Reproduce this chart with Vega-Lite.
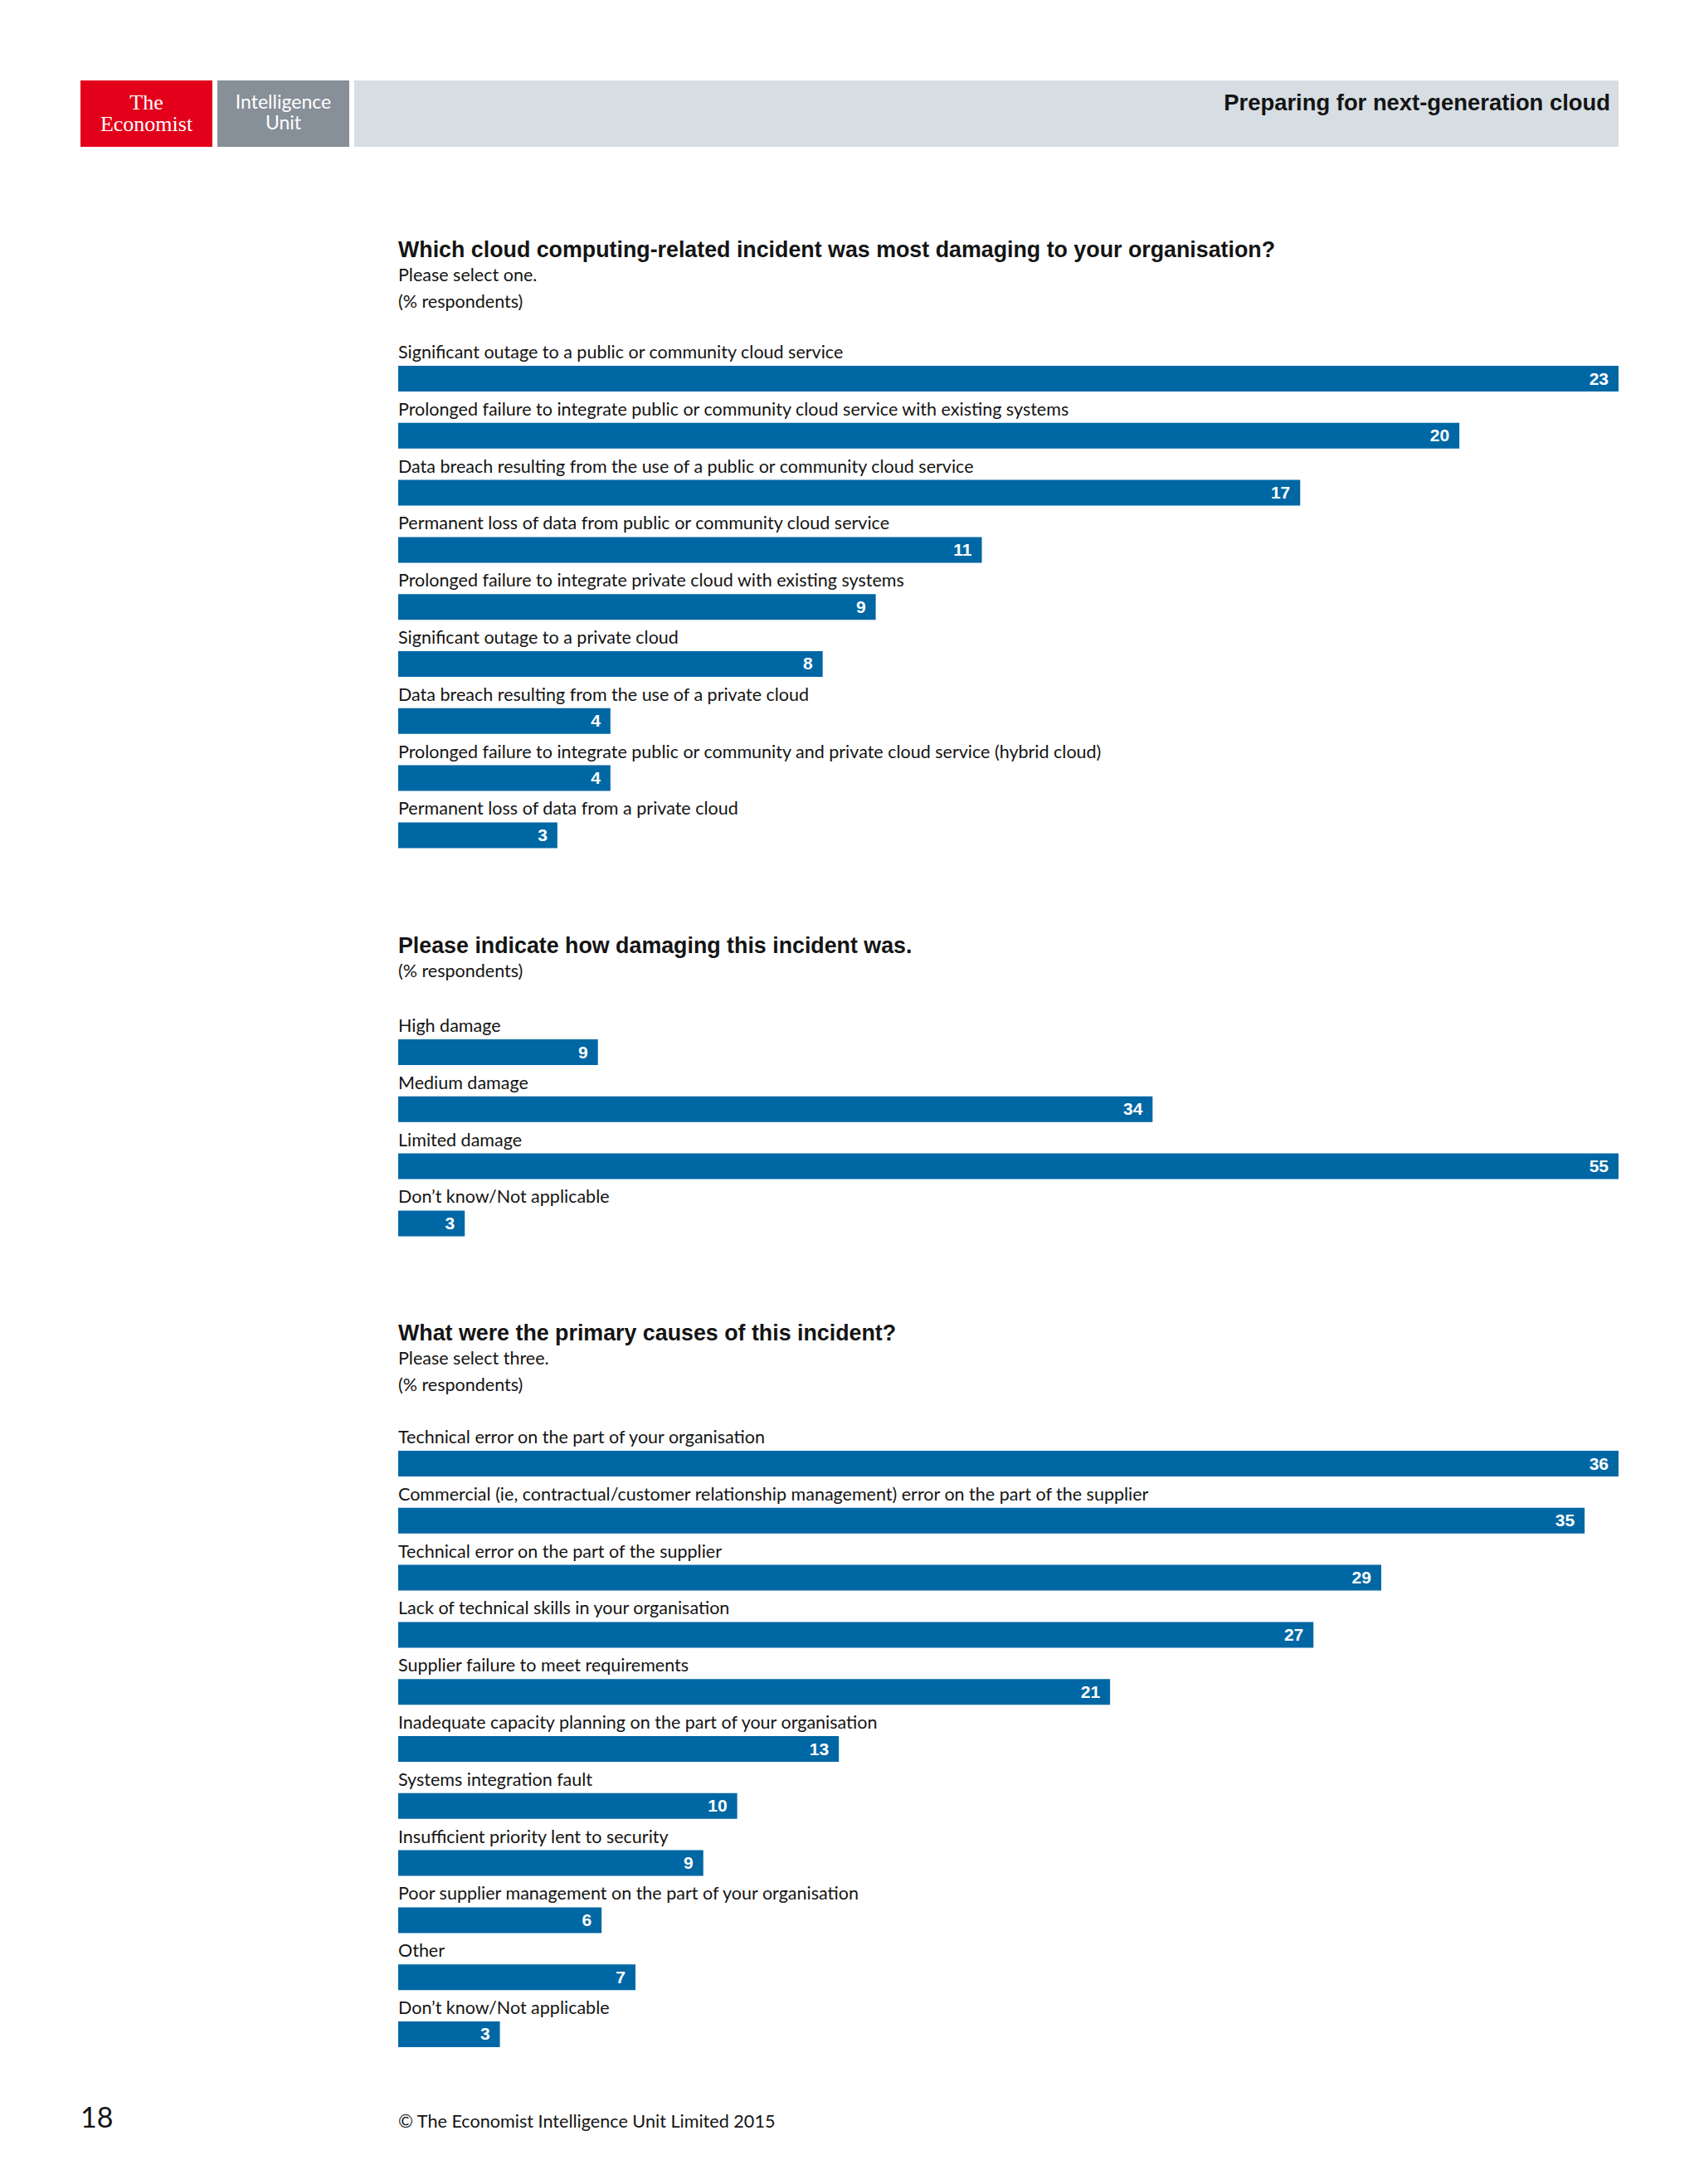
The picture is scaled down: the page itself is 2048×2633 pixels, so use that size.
{
  "$schema": "https://vega.github.io/schema/vega-lite/v6.json",
  "background": "white",
  "padding": {"left": 97, "top": 97, "right": 97, "bottom": 123},
  "bounds": "flush",
  "spacing": 0,
  "config": {"view": {"stroke": null}, "text": {"color": "#141414"}},
  "datasets": {
    "q1": [
      {"answer": "Significant outage to a public or community cloud service", "pct": 23},
      {"answer": "Prolonged failure to integrate public or community cloud service with existing systems", "pct": 20},
      {"answer": "Data breach resulting from the use of a public or community cloud service", "pct": 17},
      {"answer": "Permanent loss of data from public or community cloud service", "pct": 11},
      {"answer": "Prolonged failure to integrate private cloud with existing systems", "pct": 9},
      {"answer": "Significant outage to a private cloud", "pct": 8},
      {"answer": "Data breach resulting from the use of a private cloud", "pct": 4},
      {"answer": "Prolonged failure to integrate public or community and private cloud service (hybrid cloud)", "pct": 4},
      {"answer": "Permanent loss of data from a private cloud", "pct": 3}
    ],
    "q2": [
      {"answer": "High damage", "pct": 9},
      {"answer": "Medium damage", "pct": 34},
      {"answer": "Limited damage", "pct": 55},
      {"answer": "Don’t know/Not applicable", "pct": 3}
    ],
    "q3": [
      {"answer": "Technical error on the part of your organisation", "pct": 36},
      {"answer": "Commercial (ie, contractual/customer relationship management) error on the part of the supplier", "pct": 35},
      {"answer": "Technical error on the part of the supplier", "pct": 29},
      {"answer": "Lack of technical skills in your organisation", "pct": 27},
      {"answer": "Supplier failure to meet requirements", "pct": 21},
      {"answer": "Inadequate capacity planning on the part of your organisation", "pct": 13},
      {"answer": "Systems integration fault", "pct": 10},
      {"answer": "Insufficient priority lent to security", "pct": 9},
      {"answer": "Poor supplier management on the part of your organisation", "pct": 6},
      {"answer": "Other", "pct": 7},
      {"answer": "Don’t know/Not applicable", "pct": 3}
    ],
    "brand1": [{"name": "The Economist"}],
    "brand2": [{"name": "Intelligence Unit"}],
    "none": [{"name": ""}]
  },
  "vconcat": [
    {
      "hconcat": [
        {
          "width": 159, "height": 80,
          "view": {"fill": "#e2001a", "stroke": null},
          "data": {"name": "brand1"},
          "mark": {"type": "text", "lineBreak": " ", "font": "Liberation Serif", "fontSize": 26, "lineHeight": 26, "color": "white", "align": "center", "baseline": "middle", "dy": -13},
          "encoding": {"text": {"field": "name"}}
        },
        {
          "width": 159, "height": 80,
          "view": {"fill": "#878f98", "stroke": null},
          "data": {"name": "brand2"},
          "mark": {"type": "text", "lineBreak": " ", "font": "Lato", "fontSize": 23, "lineHeight": 25, "color": "white", "align": "center", "baseline": "middle", "dy": -13},
          "encoding": {"text": {"field": "name"}}
        },
        {
          "width": 1524, "height": 80,
          "view": {"fill": "#d6dee3", "stroke": null},
          "data": {"name": "none"},
          "title": {"text": "Preparing for next-generation cloud", "anchor": "end", "frame": "group", "orient": "top", "offset": -41, "dx": -10, "font": "Liberation Sans", "fontSize": 27.4, "fontWeight": "bold", "color": "#141414"},
          "mark": {"type": "text"},
          "encoding": {"text": {"field": "name"}}
        }
      ],
      "spacing": 6,
      "bounds": "flush"
    },
    {
      "width": 1854, "height": 1003,
      "data": {"name": "q1"},
      "title": {"text": "Which cloud computing-related incident was most damaging to your organisation?", "subtitle": ["Please select one.", "(% respondents)"], "anchor": "start", "frame": "group", "offset": -278, "dx": 383, "font": "Liberation Sans", "fontSize": 26.8, "fontWeight": "bold", "color": "#141414", "subtitleFont": "Lato", "subtitleFontSize": 21.5, "subtitleColor": "#141414", "subtitleLineHeight": 32, "subtitlePadding": 6},
      "encoding": {"y": {"field": "answer", "type": "nominal", "sort": null, "axis": null, "scale": {"range": [344, 925.4], "paddingInner": 0.5494, "paddingOuter": 0}}},
      "layer": [
        {"mark": {"type": "bar", "color": "#0067a5"}, "encoding": {"x": {"field": "pct", "type": "quantitative", "axis": null, "scale": {"domain": [0, 23], "range": [383, 1854], "nice": false, "zero": true}}}},
        {"mark": {"type": "text", "align": "left", "baseline": "alphabetic", "dy": -24.5, "font": "Lato", "fontSize": 21.5}, "encoding": {"x": {"datum": 0, "type": "quantitative"}, "text": {"field": "answer"}}},
        {"mark": {"type": "text", "align": "right", "baseline": "middle", "dx": -12, "dy": 1, "font": "Liberation Sans", "fontWeight": "bold", "fontSize": 21, "color": "white"}, "encoding": {"x": {"field": "pct", "type": "quantitative"}, "text": {"field": "pct"}}}
      ]
    },
    {
      "width": 1854, "height": 470,
      "data": {"name": "q2"},
      "title": {"text": "Please indicate how damaging this incident was.", "subtitle": ["(% respondents)"], "anchor": "start", "frame": "group", "offset": -82, "dx": 383, "font": "Liberation Sans", "fontSize": 26.8, "fontWeight": "bold", "color": "#141414", "subtitleFont": "Lato", "subtitleFontSize": 21.5, "subtitleColor": "#141414", "subtitleLineHeight": 32, "subtitlePadding": 6},
      "encoding": {"y": {"field": "answer", "type": "nominal", "sort": null, "axis": null, "scale": {"range": [153, 390.4], "paddingInner": 0.5494, "paddingOuter": 0}}},
      "layer": [
        {"mark": {"type": "bar", "color": "#0067a5"}, "encoding": {"x": {"field": "pct", "type": "quantitative", "axis": null, "scale": {"domain": [0, 55], "range": [383, 1854], "nice": false, "zero": true}}}},
        {"mark": {"type": "text", "align": "left", "baseline": "alphabetic", "dy": -24.5, "font": "Lato", "fontSize": 21.5}, "encoding": {"x": {"datum": 0, "type": "quantitative"}, "text": {"field": "answer"}}},
        {"mark": {"type": "text", "align": "right", "baseline": "middle", "dx": -12, "dy": 1, "font": "Liberation Sans", "fontWeight": "bold", "fontSize": 21, "color": "white"}, "encoding": {"x": {"field": "pct", "type": "quantitative"}, "text": {"field": "pct"}}}
      ]
    },
    {
      "width": 1854, "height": 940,
      "data": {"name": "q3"},
      "title": {"text": "What were the primary causes of this incident?", "subtitle": ["Please select three.", "(% respondents)"], "anchor": "start", "frame": "group", "offset": -111, "dx": 383, "font": "Liberation Sans", "fontSize": 26.8, "fontWeight": "bold", "color": "#141414", "subtitleFont": "Lato", "subtitleFontSize": 21.5, "subtitleColor": "#141414", "subtitleLineHeight": 32, "subtitlePadding": 6},
      "encoding": {"y": {"field": "answer", "type": "nominal", "sort": null, "axis": null, "scale": {"range": [179, 898], "paddingInner": 0.5494, "paddingOuter": 0}}},
      "layer": [
        {"mark": {"type": "bar", "color": "#0067a5"}, "encoding": {"x": {"field": "pct", "type": "quantitative", "axis": null, "scale": {"domain": [0, 36], "range": [383, 1854], "nice": false, "zero": true}}}},
        {"mark": {"type": "text", "align": "left", "baseline": "alphabetic", "dy": -24.5, "font": "Lato", "fontSize": 21.5}, "encoding": {"x": {"datum": 0, "type": "quantitative"}, "text": {"field": "answer"}}},
        {"mark": {"type": "text", "align": "right", "baseline": "middle", "dx": -12, "dy": 1, "font": "Liberation Sans", "fontWeight": "bold", "fontSize": 21, "color": "white"}, "encoding": {"x": {"field": "pct", "type": "quantitative"}, "text": {"field": "pct"}}}
      ]
    },
    {
      "hconcat": [
        {
          "width": 383, "height": 90,
          "data": {"name": "none"},
          "title": {"text": "18", "anchor": "start", "frame": "group", "orient": "top", "offset": -62, "font": "Lato", "fontSize": 34, "fontWeight": "normal", "color": "#141414"},
          "mark": {"type": "text"},
          "encoding": {"text": {"field": "name"}}
        },
        {
          "width": 1471, "height": 90,
          "data": {"name": "none"},
          "title": {"text": "© The Economist Intelligence Unit Limited 2015", "anchor": "start", "frame": "group", "orient": "top", "offset": -60, "font": "Lato", "fontSize": 21.6, "fontWeight": "normal", "color": "#141414"},
          "mark": {"type": "text"},
          "encoding": {"text": {"field": "name"}}
        }
      ],
      "spacing": 0,
      "bounds": "flush"
    }
  ]
}
